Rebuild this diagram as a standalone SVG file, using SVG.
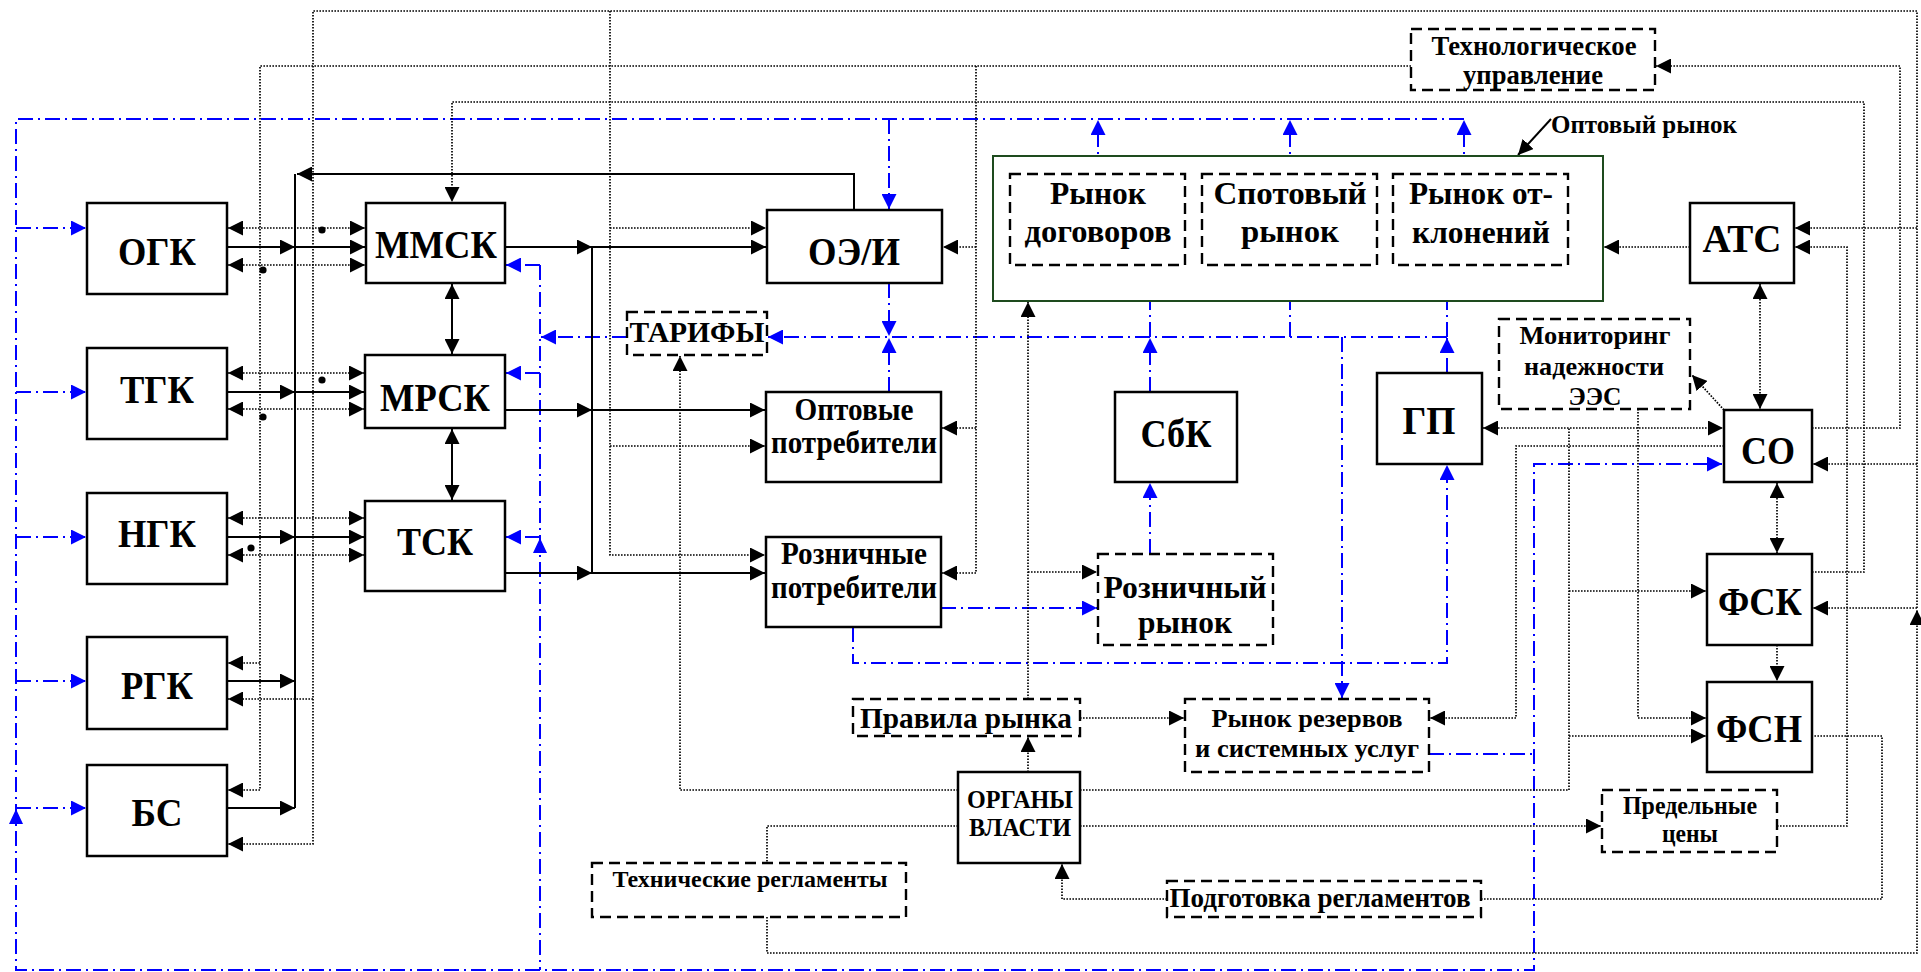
<svg xmlns="http://www.w3.org/2000/svg" width="1921" height="972" viewBox="0 0 1921 972">
<defs>
<style>
.box{fill:#fff;stroke:#000;stroke-width:2.5}
.dbox{fill:#fff;stroke:#000;stroke-width:2.4;stroke-dasharray:11 6}
.gbox{fill:#fff;stroke:#1e4b1e;stroke-width:2}
.s{fill:none;stroke:#000;stroke-width:2}
.d{fill:none;stroke:#000;stroke-width:1.7;stroke-dasharray:1.6 1.4}
.b{fill:none;stroke:#0000ff;stroke-width:2;stroke-dasharray:15 5 2 5}
.t{font-family:"Liberation Serif","Times New Roman",serif;font-weight:bold;fill:#000;text-anchor:middle}
.L{font-size:40px}
.M{font-size:31px}
.S{font-size:26px}
</style>
<marker id="a" markerUnits="userSpaceOnUse" markerWidth="15" markerHeight="15" refX="14" refY="7" orient="auto-start-reverse" viewBox="0 0 14 14"><path d="M0,0 L14,7 L0,14 z" fill="#000"/></marker>
<marker id="ab" markerUnits="userSpaceOnUse" markerWidth="15" markerHeight="15" refX="14" refY="7" orient="auto-start-reverse" viewBox="0 0 14 14"><path d="M0,0 L14,7 L0,14 z" fill="#0000ff"/></marker>
</defs>
<rect width="1921" height="972" fill="#fff"/>

<g id="connectors">
<g class="blue">
<path class="b" d="M1464,119 H16 V970 H1534 V464 H1722" marker-end="url(#ab)"/>
<path class="b" d="M1098,174 V120" marker-end="url(#ab)"/>
<path class="b" d="M1290,174 V120" marker-end="url(#ab)"/>
<path class="b" d="M1464,174 V120" marker-end="url(#ab)"/>
<path class="b" d="M889,119 V209" marker-end="url(#ab)"/>
<path class="b" d="M16,228 H86" marker-end="url(#ab)"/>
<path class="b" d="M16,392 H86" marker-end="url(#ab)"/>
<path class="b" d="M16,537 H86" marker-end="url(#ab)"/>
<path class="b" d="M16,681 H86" marker-end="url(#ab)"/>
<path class="b" d="M16,808 H86" marker-end="url(#ab)"/>
<polygon points="16,809 9,824 23,824" fill="#0000ff"/>
<path class="b" d="M889,283 V336" marker-end="url(#ab)"/>
<path class="b" d="M889,392 V338" marker-end="url(#ab)"/>
<path class="b" d="M1447,337 H768" marker-end="url(#ab)"/>
<path class="b" d="M627,337 H541" marker-end="url(#ab)"/>
<path class="b" d="M1150,392 V338" marker-end="url(#ab)"/>
<path class="b" d="M1150,337 V266" marker-end="url(#ab)"/>
<path class="b" d="M1290,337 V266" marker-end="url(#ab)"/>
<path class="b" d="M1447,373 V338" marker-end="url(#ab)"/>
<path class="b" d="M1447,337 V266" marker-end="url(#ab)"/>
<path class="b" d="M540,265 V970"/>
<path class="b" d="M540,265 H506" marker-end="url(#ab)"/>
<path class="b" d="M540,373 H506" marker-end="url(#ab)"/>
<path class="b" d="M540,537 H506" marker-end="url(#ab)"/>
<polygon points="540,538 533,553 547,553" fill="#0000ff"/>
<path class="b" d="M1342,337 V698" marker-end="url(#ab)"/>
<path class="b" d="M941,608 H1097" marker-end="url(#ab)"/>
<path class="b" d="M853,627 V663 H1447 V465" marker-end="url(#ab)"/>
<path class="b" d="M1150,554 V483" marker-end="url(#ab)"/>
<path class="b" d="M1429,754 H1534"/>
</g>
<g class="solid">
<path class="s" d="M295,174 V808"/>
<path class="s" d="M854,210 V174 H297" marker-end="url(#a)"/>
<path class="s" d="M227,247 H295" marker-end="url(#a)"/>
<path class="s" d="M295,247 H365" marker-end="url(#a)"/>
<path class="s" d="M227,392 H295" marker-end="url(#a)"/>
<path class="s" d="M295,392 H364" marker-end="url(#a)"/>
<path class="s" d="M227,537 H295" marker-end="url(#a)"/>
<path class="s" d="M295,537 H364" marker-end="url(#a)"/>
<path class="s" d="M227,681 H295" marker-end="url(#a)"/>
<path class="s" d="M227,808 H295" marker-end="url(#a)"/>
<path class="s" d="M452,284 V354" marker-start="url(#a)" marker-end="url(#a)"/>
<path class="s" d="M452,429 V500" marker-start="url(#a)" marker-end="url(#a)"/>
<path class="s" d="M505,247 H592" marker-end="url(#a)"/>
<path class="s" d="M505,410 H592" marker-end="url(#a)"/>
<path class="s" d="M505,573 H592" marker-end="url(#a)"/>
<path class="s" d="M592,247 V573"/>
<path class="s" d="M592,247 H766" marker-end="url(#a)"/>
<path class="s" d="M592,410 H765" marker-end="url(#a)"/>
<path class="s" d="M592,573 H765" marker-end="url(#a)"/>
<path class="s" d="M1551,119 L1518,155" marker-end="url(#a)"/>
</g>
<g class="dotted">
<path class="d" d="M228,228 H365" marker-start="url(#a)" marker-end="url(#a)"/>
<path class="d" d="M228,265 H365" marker-start="url(#a)" marker-end="url(#a)"/>
<path class="d" d="M228,373 H364" marker-start="url(#a)" marker-end="url(#a)"/>
<path class="d" d="M228,409 H364" marker-start="url(#a)" marker-end="url(#a)"/>
<path class="d" d="M228,518 H364" marker-start="url(#a)" marker-end="url(#a)"/>
<path class="d" d="M228,555 H364" marker-start="url(#a)" marker-end="url(#a)"/>
<path class="d" d="M1411,66 H260 V790 H228" marker-end="url(#a)"/>
<path class="d" d="M260,663 H228" marker-end="url(#a)"/>
<path class="d" d="M1917,608 V11 H313 V844 H228" marker-end="url(#a)"/>
<path class="d" d="M313,699 H228" marker-end="url(#a)"/>
<path class="d" d="M1917,608 H1813" marker-end="url(#a)"/>
<path class="d" d="M1917,228 H1795" marker-end="url(#a)"/>
<path class="d" d="M1917,464 H1813" marker-end="url(#a)"/>
<path class="d" d="M767,917 V953 H1917 V610" marker-end="url(#a)"/>
<path class="d" d="M1812,572 H1864 V102 H452 V202" marker-end="url(#a)"/>
<path class="d" d="M610,11 V555 H765" marker-end="url(#a)"/>
<path class="d" d="M610,228 H766" marker-end="url(#a)"/>
<path class="d" d="M610,446 H765" marker-end="url(#a)"/>
<path class="d" d="M976,66 V573 H942" marker-end="url(#a)"/>
<path class="d" d="M976,247 H943" marker-end="url(#a)"/>
<path class="d" d="M976,428 H942" marker-end="url(#a)"/>
<path class="d" d="M958,790 H680 V356" marker-end="url(#a)"/>
<path class="d" d="M1028,699 V302" marker-end="url(#a)"/>
<path class="d" d="M1028,572 H1097" marker-end="url(#a)"/>
<path class="d" d="M1028,772 V737" marker-end="url(#a)"/>
<path class="d" d="M1080,718 H1184" marker-end="url(#a)"/>
<path class="d" d="M958,826 H767 V863"/>
<path class="d" d="M1690,247 H1604" marker-end="url(#a)"/>
<path class="d" d="M1760,284 V409" marker-start="url(#a)" marker-end="url(#a)"/>
<path class="d" d="M1777,826 H1847 V247 H1795" marker-end="url(#a)"/>
<path class="d" d="M1812,428 H1900 V66 H1656" marker-end="url(#a)"/>
<path class="d" d="M1483,428 H1723" marker-start="url(#a)" marker-end="url(#a)"/>
<path class="d" d="M1724,410 L1692,375" marker-end="url(#a)"/>
<path class="d" d="M1724,446 H1516 V718 H1430" marker-end="url(#a)"/>
<path class="d" d="M1080,790 H1569 V428"/>
<path class="d" d="M1569,591 H1706" marker-end="url(#a)"/>
<path class="d" d="M1569,736 H1706" marker-end="url(#a)"/>
<path class="d" d="M1638,409 V718 H1706" marker-end="url(#a)"/>
<path class="d" d="M1777,483 V553" marker-start="url(#a)" marker-end="url(#a)"/>
<path class="d" d="M1777,645 V681" marker-end="url(#a)"/>
<path class="d" d="M1080,826 H1601" marker-end="url(#a)"/>
<path class="d" d="M1167,899 H1062 V864" marker-end="url(#a)"/>
<path class="d" d="M1481,899 H1882 V736 H1812"/>
</g>
<g class="dots" fill="#000">
<circle cx="322" cy="230" r="3.6"/>
<circle cx="263" cy="270" r="3.6"/>
<circle cx="322" cy="380" r="3.6"/>
<circle cx="263" cy="417" r="3.6"/>
<circle cx="251" cy="548" r="3.6"/>
</g>
</g>

<g id="optovy-rynok">
<rect class="gbox" x="993" y="156" width="610" height="145"/>
<text class="t S" x="1644" y="133" textLength="186" lengthAdjust="spacingAndGlyphs">Оптовый рынок</text>
</g>

<g id="OGK"><rect class="box" x="87" y="203" width="140" height="91"/><text class="t L" x="157" y="265" textLength="78" lengthAdjust="spacingAndGlyphs">ОГК</text></g>
<g id="TGK"><rect class="box" x="87" y="348" width="140" height="91"/><text class="t L" x="157" y="403" textLength="74" lengthAdjust="spacingAndGlyphs">ТГК</text></g>
<g id="NGK"><rect class="box" x="87" y="493" width="140" height="91"/><text class="t L" x="157" y="547" textLength="78" lengthAdjust="spacingAndGlyphs">НГК</text></g>
<g id="RGK"><rect class="box" x="87" y="637" width="140" height="92"/><text class="t L" x="157" y="699" textLength="72" lengthAdjust="spacingAndGlyphs">РГК</text></g>
<g id="BS"><rect class="box" x="87" y="765" width="140" height="91"/><text class="t L" x="157" y="826" textLength="51" lengthAdjust="spacingAndGlyphs">БС</text></g>
<g id="MMSK"><rect class="box" x="366" y="203" width="139" height="80"/><text class="t L" x="436" y="258" textLength="122" lengthAdjust="spacingAndGlyphs">ММСК</text></g>
<g id="MRSK"><rect class="box" x="365" y="355" width="140" height="73"/><text class="t L" x="435" y="411" textLength="110" lengthAdjust="spacingAndGlyphs">МРСК</text></g>
<g id="TSK"><rect class="box" x="365" y="501" width="140" height="90"/><text class="t L" x="435" y="555" textLength="76" lengthAdjust="spacingAndGlyphs">ТСК</text></g>
<g id="OEI"><rect class="box" x="767" y="210" width="175" height="73"/><text class="t L" x="854" y="265" textLength="92" lengthAdjust="spacingAndGlyphs">ОЭ/И</text></g>
<g id="opt-potr"><rect class="box" x="766" y="392" width="175" height="90"/>
<text class="t M" x="854" y="420" textLength="119" lengthAdjust="spacingAndGlyphs">Оптовые</text>
<text class="t M" x="854" y="453" textLength="166" lengthAdjust="spacingAndGlyphs">потребители</text></g>
<g id="rozn-potr"><rect class="box" x="766" y="537" width="175" height="90"/>
<text class="t M" x="854" y="564" textLength="146" lengthAdjust="spacingAndGlyphs">Розничные</text>
<text class="t M" x="854" y="598" textLength="166" lengthAdjust="spacingAndGlyphs">потребители</text></g>
<g id="SbK"><rect class="box" x="1115" y="392" width="122" height="90"/><text class="t L" x="1176" y="447" textLength="71" lengthAdjust="spacingAndGlyphs">СбК</text></g>
<g id="GP"><rect class="box" x="1377" y="373" width="105" height="91"/><text class="t L" x="1429" y="434" textLength="53" lengthAdjust="spacingAndGlyphs">ГП</text></g>
<g id="ATS"><rect class="box" x="1690" y="203" width="104" height="80"/><text class="t L" x="1742" y="252" textLength="79" lengthAdjust="spacingAndGlyphs">АТС</text></g>
<g id="SO"><rect class="box" x="1724" y="410" width="88" height="72"/><text class="t L" x="1768" y="464" textLength="54" lengthAdjust="spacingAndGlyphs">СО</text></g>
<g id="FSK"><rect class="box" x="1707" y="554" width="105" height="91"/><text class="t L" x="1760" y="615" textLength="84" lengthAdjust="spacingAndGlyphs">ФСК</text></g>
<g id="FSN"><rect class="box" x="1707" y="682" width="105" height="90"/><text class="t L" x="1759" y="742" textLength="86" lengthAdjust="spacingAndGlyphs">ФСН</text></g>
<g id="organy"><rect class="box" x="958" y="772" width="122" height="91"/>
<text class="t" font-size="25" x="1020" y="808" textLength="106" lengthAdjust="spacingAndGlyphs">ОРГАНЫ</text>
<text class="t" font-size="25" x="1020" y="836" textLength="102" lengthAdjust="spacingAndGlyphs">ВЛАСТИ</text></g>

<g id="rynok-dogovorov"><rect class="dbox" x="1010" y="174" width="175" height="91"/>
<text class="t M" x="1098" y="204" textLength="96" lengthAdjust="spacingAndGlyphs">Рынок</text>
<text class="t M" x="1098" y="242" textLength="147" lengthAdjust="spacingAndGlyphs">договоров</text></g>
<g id="spotovy"><rect class="dbox" x="1202" y="174" width="175" height="91"/>
<text class="t M" x="1290" y="204" textLength="153" lengthAdjust="spacingAndGlyphs">Спотовый</text>
<text class="t M" x="1290" y="242" textLength="98" lengthAdjust="spacingAndGlyphs">рынок</text></g>
<g id="otkloneniy"><rect class="dbox" x="1393" y="174" width="175" height="91"/>
<text class="t M" x="1481" y="204" textLength="144" lengthAdjust="spacingAndGlyphs">Рынок от-</text>
<text class="t M" x="1481" y="243" textLength="138" lengthAdjust="spacingAndGlyphs">клонений</text></g>
<g id="tekh-upr"><rect class="dbox" x="1411" y="29" width="244" height="61"/>
<text class="t" font-size="27" x="1534" y="55" textLength="205" lengthAdjust="spacingAndGlyphs">Технологическое</text>
<text class="t" font-size="27" x="1533" y="84" textLength="140" lengthAdjust="spacingAndGlyphs">управление</text></g>
<g id="tarify"><rect class="dbox" x="627" y="312" width="140" height="43"/>
<text class="t" font-size="30" x="697" y="342" textLength="135" lengthAdjust="spacingAndGlyphs">ТАРИФЫ</text></g>
<g id="monitoring"><rect class="dbox" x="1499" y="319" width="191" height="90"/>
<text class="t S" x="1595" y="344" textLength="151" lengthAdjust="spacingAndGlyphs">Мониторинг</text>
<text class="t S" x="1594" y="375" textLength="140" lengthAdjust="spacingAndGlyphs">надежности</text>
<text class="t S" x="1595" y="405" textLength="53" lengthAdjust="spacingAndGlyphs">ЭЭС</text></g>
<g id="rozn-rynok"><rect class="dbox" x="1098" y="554" width="175" height="91"/>
<text class="t M" x="1185" y="598" textLength="163" lengthAdjust="spacingAndGlyphs">Розничный</text>
<text class="t M" x="1185" y="633" textLength="94" lengthAdjust="spacingAndGlyphs">рынок</text></g>
<g id="pravila"><rect class="dbox" x="853" y="699" width="227" height="37"/>
<text class="t" font-size="30" x="966" y="728" textLength="212" lengthAdjust="spacingAndGlyphs">Правила рынка</text></g>
<g id="rezervy"><rect class="dbox" x="1185" y="699" width="244" height="73"/>
<text class="t S" x="1307" y="727" textLength="191" lengthAdjust="spacingAndGlyphs">Рынок резервов</text>
<text class="t S" x="1307" y="757" textLength="224" lengthAdjust="spacingAndGlyphs">и системных услуг</text></g>
<g id="predelnye"><rect class="dbox" x="1602" y="790" width="175" height="62"/>
<text class="t" font-size="25" x="1690" y="814" textLength="134" lengthAdjust="spacingAndGlyphs">Предельные</text>
<text class="t" font-size="25" x="1690" y="842" textLength="56" lengthAdjust="spacingAndGlyphs">цены</text></g>
<g id="tekh-regl"><rect class="dbox" x="592" y="863" width="314" height="54"/>
<text class="t" font-size="24" x="750" y="887" textLength="275" lengthAdjust="spacingAndGlyphs">Технические регламенты</text></g>
<g id="podgotovka"><rect class="dbox" x="1167" y="881" width="314" height="36"/>
<text class="t" font-size="28" x="1320" y="907" textLength="301" lengthAdjust="spacingAndGlyphs">Подготовка регламентов</text></g>
</svg>
